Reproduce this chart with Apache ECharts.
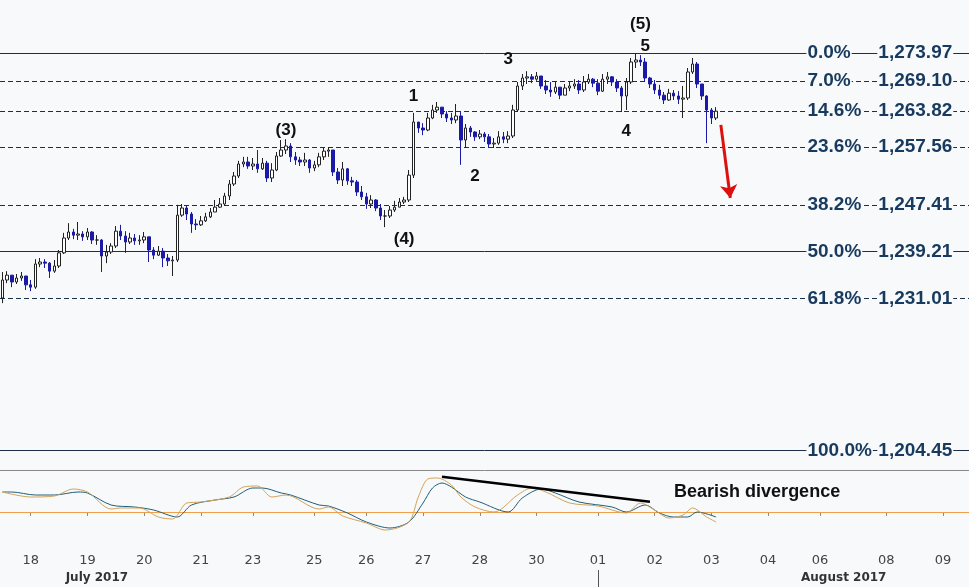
<!DOCTYPE html>
<html><head><meta charset="utf-8">
<script src="https://cdn.jsdelivr.net/npm/echarts@6/dist/echarts.min.js"></script>
<style>html,body{margin:0;padding:0;background:#f8f9fa}#c{width:969px;height:587px}</style>
</head><body><div id="c"></div>
<script>
const SLOTS = 205;
const firstOpen = 1231.1;
const closes = [1234.25,1235.1,1233.9,1234.6,1234.95,1233.4,1233.0,1237.05,1237.4,1237.2,
1235.8,1236.7,1239.0,1241.6,1242.65,1242.1,1242.3,1241.8,1242.65,1241.25,
1241.25,1238.45,1239.15,1240.2,1242.8,1241.95,1240.9,1241.6,1241.1,1241.25,
1241.8,1239.5,1238.6,1239.3,1238.1,1237.6,1237.75,1245.6,1246.85,1245.8,
1244.05,1243.9,1244.6,1245.3,1246.15,1247.0,1247.55,1248.95,1251.05,1252.45,
1254.55,1254.9,1254.2,1254.55,1253.7,1254.7,1252.1,1253.5,1255.95,1257.0,
1257.7,1255.8,1255.25,1254.9,1255.25,1253.85,1254.4,1255.8,1256.8,1257.0,
1253.15,1251.75,1253.7,1251.6,1251.4,1249.65,1248.8,1247.55,1248.25,1246.85,
1245.45,1245.45,1246.5,1247.0,1247.9,1248.25,1252.6,1261.9,1260.85,1260.5,
1262.6,1264.0,1264.5,1263.3,1262.6,1262.25,1262.95,1258.75,1260.85,1260.15,
1259.3,1259.8,1259.3,1258.05,1258.2,1259.3,1258.9,1259.45,1264.0,1268.2,
1269.6,1269.8,1269.4,1269.95,1268.2,1267.5,1267.15,1268.0,1266.6,1267.85,
1268.2,1268.55,1267.5,1268.9,1269.4,1268.7,1267.3,1269.4,1269.8,1268.9,
1267.85,1266.45,1268.9,1272.4,1272.75,1272.4,1269.6,1268.55,1267.5,1266.6,
1265.75,1266.95,1266.45,1265.9,1266.1,1270.65,1272.05,1268.55,1266.45,1264.0,
1262.6,1263.8];
const highs = [1235.65,1235.8,1234.95,1235.3,1235.65,1234.95,1234.25,1237.9,1238.1,1237.9,
1237.4,1237.75,1239.5,1242.5,1244.2,1243.2,1244.4,1242.8,1243.35,1242.8,
1242.1,1241.4,1240.4,1240.7,1243.7,1243.9,1242.8,1242.5,1242.3,1242.1,
1242.65,1241.6,1240.0,1240.2,1239.85,1238.8,1238.45,1247.4,1247.55,1247.2,
1246.15,1244.9,1245.45,1246.0,1246.85,1248.25,1248.6,1249.5,1251.75,1253.15,
1255.1,1255.8,1255.8,1255.6,1257.0,1255.6,1255.1,1254.7,1256.65,1258.75,
1258.9,1258.2,1256.65,1255.8,1256.5,1255.4,1255.1,1256.5,1257.35,1257.5,
1257.0,1253.85,1254.9,1253.85,1252.3,1251.75,1250.7,1249.5,1249.1,1248.4,
1247.55,1246.5,1247.2,1248.1,1248.6,1248.8,1253.5,1263.5,1261.9,1261.7,
1263.5,1264.9,1265.4,1264.35,1263.8,1263.5,1265.05,1263.65,1261.55,1261.2,
1260.3,1260.5,1260.15,1259.8,1259.1,1260.3,1260.15,1260.3,1264.9,1268.9,
1270.3,1270.8,1270.3,1270.65,1269.95,1269.25,1268.9,1268.9,1268.0,1268.55,
1268.9,1269.4,1269.25,1269.95,1270.3,1269.6,1269.4,1270.3,1270.65,1269.95,
1269.4,1268.2,1269.6,1273.1,1273.97,1273.6,1273.1,1269.8,1269.25,1268.4,
1267.15,1267.7,1267.5,1267.3,1268.2,1271.35,1273.1,1272.4,1268.55,1266.6,
1264.35,1264.5];
const lows = [1230.2,1233.7,1233.0,1233.55,1234.1,1232.5,1232.3,1232.7,1236.5,1236.35,
1234.6,1235.5,1236.35,1238.8,1241.25,1241.4,1241.25,1241.1,1241.25,1240.55,
1240.4,1235.65,1237.2,1238.8,1239.85,1241.25,1239.0,1240.55,1240.4,1240.4,
1240.7,1237.4,1237.9,1238.45,1236.5,1236.7,1234.95,1237.4,1245.3,1244.75,
1242.5,1243.0,1243.7,1244.4,1245.1,1246.3,1246.85,1247.2,1248.25,1250.7,
1252.1,1254.0,1253.7,1253.5,1253.0,1253.5,1251.4,1251.4,1253.3,1255.8,
1256.3,1254.9,1254.4,1254.2,1254.2,1253.0,1253.3,1254.0,1255.25,1255.8,
1252.45,1251.05,1250.7,1250.9,1250.7,1248.95,1248.25,1246.7,1246.85,1246.3,
1244.75,1243.5,1245.1,1246.15,1247.0,1247.55,1247.9,1252.1,1260.0,1259.6,
1260.3,1262.4,1263.5,1262.6,1261.9,1261.55,1261.7,1254.4,1257.35,1259.3,
1258.6,1258.9,1258.4,1257.35,1257.35,1257.9,1258.2,1258.2,1259.1,1263.65,
1267.5,1268.55,1268.7,1269.1,1267.7,1266.8,1266.3,1266.8,1265.9,1266.6,
1267.3,1267.7,1266.8,1267.15,1268.55,1268.0,1266.6,1267.15,1268.55,1268.2,
1267.15,1263.65,1264.0,1268.55,1271.35,1271.7,1268.9,1267.85,1266.8,1265.9,
1265.05,1265.6,1265.75,1265.05,1262.6,1265.75,1270.3,1267.85,1265.75,1258.2,
1261.55,1262.25];

const fibPct = ['0.0%','7.0%','14.6%','23.6%','38.2%','50.0%','61.8%','100.0%'];
const fibPrice = [1273.97,1269.10,1263.82,1257.56,1247.41,1239.21,1231.01,1204.45];
const fibSolid = [true,false,false,false,false,true,false,true];

const waveText = ['(5)','5','3','1','(3)','2','4','(4)'];
const waveSlot = [135,136,107,87,60,100,132,85];
const wavePrice = [1279.05,1275.1,1272.9,1266.4,1260.5,1252.4,1260.3,1241.3];

const dayLabels = ['18','19','20','21','23','25','26','27','28','30','01','02','03','04','06','08','09'];
const daySlots = [6,18,30,42,53,66,77,89,101,113,126,138,150,162,173,187,199];
const monthLabels = ['July 2017','August 2017'];
const monthSlots = [20,178];
const monthSepSlot = 126;

const oscBlueSlot = [0,2,7,11,16,18,23,28,32,37,40,45,49,53,55,59,61,67,69,73,77,82,86,89,91,93,95,98,101,107,110,114,117,122,129,132,136,139,142,145,147,151];
const oscBlueVal = [20,20,17,17,20,19,7,5,2,-5,7,12,15,24,24,19,17,7,6,-1,-10,-16,-10,9,24,29,25,15,10,0,14,23,19,10,5,0,7,-1,-5,-5,0,-5];
const oscOrangeSlot = [0,6,11,15,18,23,25,29,33,36,39,42,48,51,54,57,60,67,69,72,77,81,86,88,90,92,95,97,100,104,109,112,115,120,126,132,135,138,141,144,146,149,151];
const oscOrangeVal = [20,15,16,23,20,3,4,4,-5,-7,9,10,15,25,26,15,17,3,5,-4,-11,-18,-10,15,33,34,27,15,5,0,17,24,20,9,6,-1,9,2,-6,-3,4,-5,-10];
const divSlot = [93,137];
const divVal = [35.3,10.3];
const divText = 'Bearish divergence';
const divTextSlot = 142, divTextVal = 20;
const arrowSlot = [152,154];
const arrowPrice = [1261.4,1248.6];

// ---- build ----
const cats = [];
for (let i = 0; i < SLOTS; i++) cats.push(String(i));
const candles = closes.map((c, i) => {
  const o = i === 0 ? firstOpen : closes[i - 1];
  return [o, c, Math.min(lows[i], o, c), Math.max(highs[i], o, c)];
});
const dayMap = {}; daySlots.forEach((s, k) => dayMap[s] = dayLabels[k]);
const monMap = {}; monthSlots.forEach((s, k) => monMap[s] = monthLabels[k]);

const fibColor = '#1b2f47';
const textColor = '#173a5e';
const bg = '#f8f9fa';
const boldFont = "'Liberation Sans', Arial, sans-serif";
const hiddenSym = {color: 'rgba(0,0,0,0)', opacity: 1};

const chart = echarts.init(document.getElementById('c'), null, {renderer: 'canvas'});
chart.setOption({
  backgroundColor: bg,
  animation: false,
  grid: [
    {left: 0, right: 0, top: 0, height: 470},
    {left: 0, right: 0, top: 471, height: 77}
  ],
  xAxis: [
    {type: 'category', gridIndex: 0, data: cats, boundaryGap: true,
     axisLine: {show: true, lineStyle: {color: '#8a8a8a', width: 1}},
     axisTick: {show: false}, axisLabel: {show: false}, splitLine: {show: false}},
    {type: 'category', gridIndex: 1, data: cats, boundaryGap: true,
     axisLine: {show: true, lineStyle: {color: '#8a8a8a', width: 1}},
     axisTick: {show: true, alignWithLabel: true, length: 4, lineStyle: {color: '#8a8a8a'},
       interval: (i) => dayMap[i] !== undefined},
     axisLabel: {show: true, interval: (i) => dayMap[i] !== undefined,
       formatter: (v, i) => dayMap[i] || '', color: '#444', fontFamily: 'DejaVu Sans', fontSize: 13, margin: 6},
     splitLine: {show: false}},
    {type: 'category', gridIndex: 1, data: cats, boundaryGap: true, position: 'bottom', offset: 22,
     axisLine: {show: false},
     axisTick: {show: true, alignWithLabel: true, length: 17, lineStyle: {color: '#555'},
       interval: (i) => i === monthSepSlot},
     axisLabel: {show: true, interval: (i) => monMap[i] !== undefined,
       formatter: (v, i) => monMap[i] || '', color: '#333', fontFamily: 'DejaVu Sans', fontWeight: 'bold', fontSize: 12, margin: 2},
     splitLine: {show: false}}
  ],
  yAxis: [
    {type: 'value', gridIndex: 0, min: 1201.0, max: 1283.25, show: false, splitLine: {show: false}},
    {type: 'value', gridIndex: 1, min: -36, max: 41, show: false, splitLine: {show: false}}
  ],
  series: [
    {
      type: 'candlestick', xAxisIndex: 0, yAxisIndex: 0, z: 2,
      data: candles, barWidth: 3,
      itemStyle: {color: '#ffffff', color0: '#1a1aa6', borderColor: '#222222', borderColor0: '#1a1aa6', borderWidth: 1},
      markLine: {
        z: 1, silent: true, symbol: ['none', 'none'], animation: false,
        label: {show: false},
        data: fibPrice.map((p, k) => ({yAxis: p,
          lineStyle: {color: fibColor, width: 1, type: fibSolid[k] ? 'solid' : [5, 3]}}))
      }
    },
    {
      type: 'scatter', xAxisIndex: 0, yAxisIndex: 0, z: 4, symbolSize: 1,
      itemStyle: hiddenSym,
      data: fibPrice.map((p, k) => ({value: [170, p], name: fibPct[k]})),
      label: {show: true, position: 'right', distance: 0, formatter: '{b}',
        color: textColor, fontFamily: boldFont, fontWeight: 'bold', fontSize: 19,
        backgroundColor: bg, padding: [1, 1, 1, 1]}
    },
    {
      type: 'scatter', xAxisIndex: 0, yAxisIndex: 0, z: 4, symbolSize: 1,
      itemStyle: hiddenSym,
      data: fibPrice.map((p) => ({value: [185, p], name: p.toLocaleString('en-US', {minimumFractionDigits: 2, maximumFractionDigits: 2})})),
      label: {show: true, position: 'right', distance: 0, formatter: '{b}',
        color: textColor, fontFamily: boldFont, fontWeight: 'bold', fontSize: 19,
        backgroundColor: bg, padding: [1, 1, 1, 1]}
    },
    {
      type: 'scatter', xAxisIndex: 0, yAxisIndex: 0, z: 5, symbolSize: 1,
      itemStyle: hiddenSym,
      data: waveText.map((t, k) => ({value: [waveSlot[k], wavePrice[k]], name: t})),
      label: {show: true, position: 'inside', formatter: '{b}',
        color: '#111', fontFamily: boldFont, fontWeight: 'bold', fontSize: 17},
      markLine: {
        silent: true, animation: false, symbol: ['none', 'arrow'], symbolSize: 13,
        label: {show: false},
        lineStyle: {color: '#dd1010', width: 3, type: 'solid'},
        itemStyle: {color: '#dd1010'},
        data: [[{coord: [arrowSlot[0], arrowPrice[0]]}, {coord: [arrowSlot[1], arrowPrice[1]]}]]
      }
    },
    {
      type: 'line', xAxisIndex: 1, yAxisIndex: 1, z: 3, symbol: 'none', smooth: 0.3,
      data: oscBlueSlot.map((s, k) => [s, oscBlueVal[k]]),
      lineStyle: {color: '#1f5f7a', width: 1},
      markLine: {
        z: 2, silent: true, symbol: ['none', 'none'], label: {show: false}, animation: false,
        lineStyle: {color: '#f0a04a', width: 1, type: 'solid'},
        data: [{yAxis: 0}]
      }
    },
    {
      type: 'line', xAxisIndex: 1, yAxisIndex: 1, z: 3, symbol: 'none', smooth: 0.3,
      data: oscOrangeSlot.map((s, k) => [s, oscOrangeVal[k]]),
      lineStyle: {color: '#d2a35a', width: 1}
    },
    {
      type: 'line', xAxisIndex: 1, yAxisIndex: 1, z: 4, symbol: 'none',
      data: divSlot.map((s, k) => [s, divVal[k]]),
      lineStyle: {color: '#000000', width: 2.5}
    },
    {
      type: 'scatter', xAxisIndex: 1, yAxisIndex: 1, z: 5, symbolSize: 1,
      itemStyle: hiddenSym,
      data: [{value: [divTextSlot, divTextVal], name: divText}],
      label: {show: true, position: 'right', distance: 0, formatter: '{b}',
        color: '#111', fontFamily: boldFont, fontWeight: 'bold', fontSize: 18}
    }
  ]
});
</script></body></html>
